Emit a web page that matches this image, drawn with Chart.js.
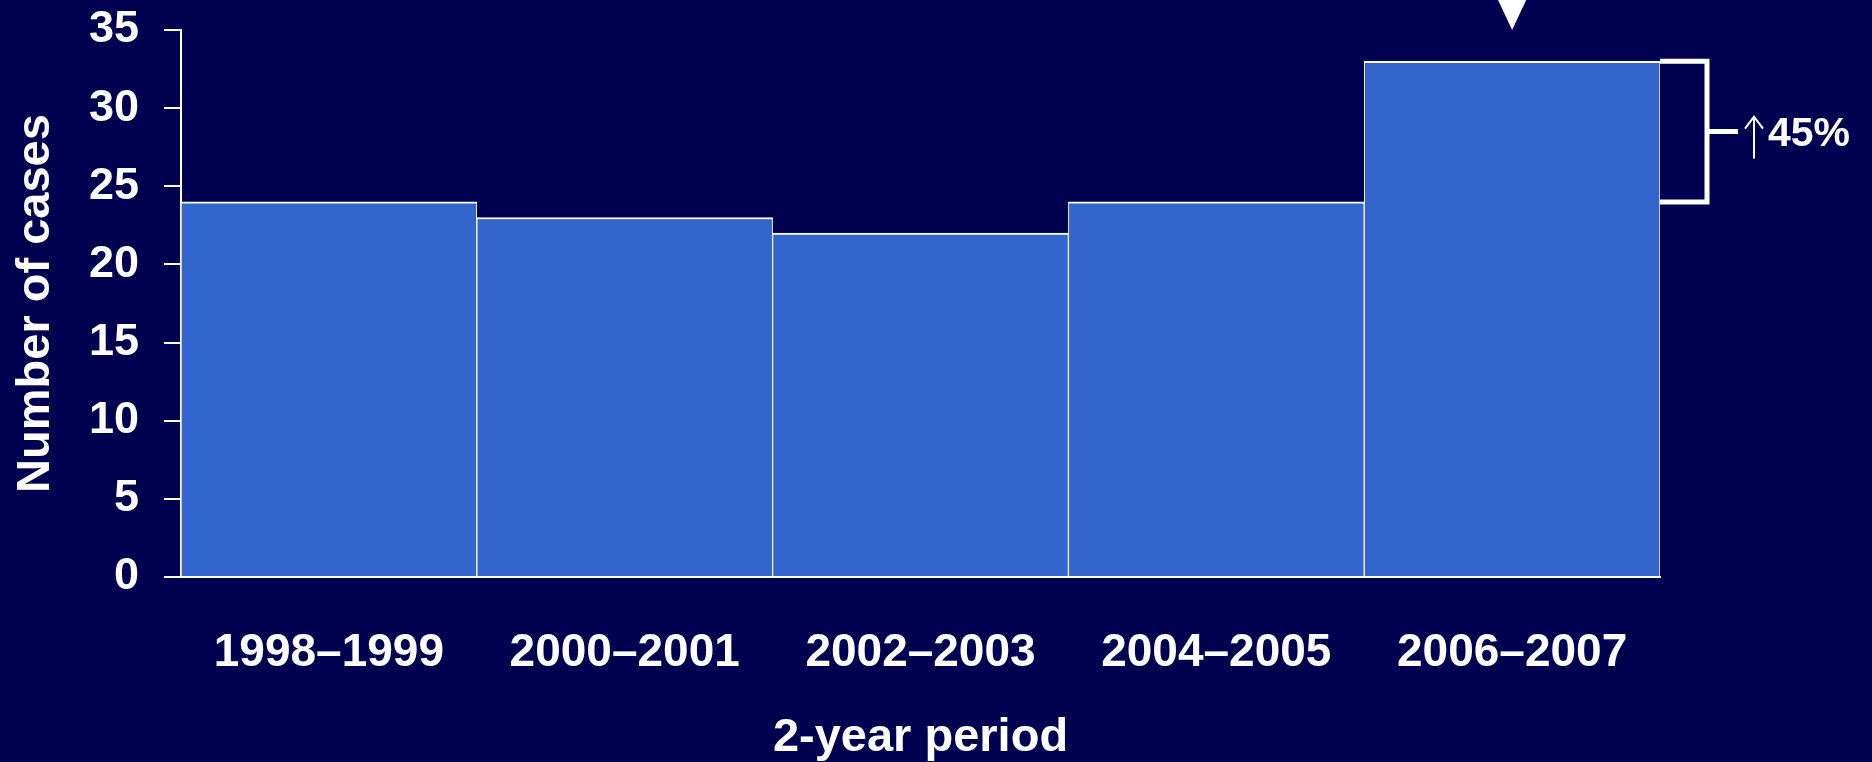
<!doctype html>
<html lang="en">
<head>
<meta charset="utf-8">
<title>Number of cases by 2-year period</title>
<script src="https://cdn.jsdelivr.net/npm/chart.js"></script>
<style>
  html, body { margin: 0; padding: 0; background: #000050; }
  canvas { display: block; }
</style>
</head>
<body>
<canvas id="casesChart" width="1872" height="762"></canvas>
<script>
// data
const periods = ['1998\u20131999', '2000\u20132001', '2002\u20132003', '2004\u20132005', '2006\u20132007'];
const cases = [24, 23, 22, 24, 33];
const yTicks = [0, 5, 10, 15, 20, 25, 30, 35];
const increaseLabel = '45%';

const FONT = '"Liberation Sans", Arial, Helvetica, sans-serif';
const WHITE = '#ffffff';

// triangle above the last bar + bracket showing the increase
const notePlugin = {
  id: 'notes',
  afterDraw(chart) {
    const ctx = chart.ctx;
    const x = chart.scales.x, y = chart.scales.y;
    const last = cases.length - 1;
    const cx = x.getPixelForValue(last);
    const top = chart.chartArea.top;
    ctx.save();
    ctx.fillStyle = WHITE;
    ctx.beginPath();
    ctx.moveTo(cx - 15, top - 32);
    ctx.lineTo(cx + 15, top - 32);
    ctx.lineTo(cx, top);
    ctx.closePath();
    ctx.fill();

    // bracket from previous period to last one
    const yHigh = y.getPixelForValue(cases[last]);
    const yLow = y.getPixelForValue(cases[last - 1]);
    const x0 = chart.chartArea.right;
    const x1 = x0 + 47;
    const yMid = (yHigh + yLow) / 2;
    ctx.strokeStyle = WHITE;
    ctx.lineWidth = 5;
    ctx.beginPath();
    ctx.moveTo(x0, yHigh);
    ctx.lineTo(x1, yHigh);
    ctx.lineTo(x1, yLow);
    ctx.lineTo(x0, yLow);
    ctx.moveTo(x1, yMid);
    ctx.lineTo(x1 + 31, yMid);
    ctx.stroke();

    // thin up arrow
    const ax = x1 + 47;
    ctx.lineWidth = 2;
    ctx.beginPath();
    ctx.moveTo(ax, yMid + 27);
    ctx.lineTo(ax, yMid - 15);
    ctx.moveTo(ax - 9, yMid - 3);
    ctx.lineTo(ax, yMid - 15);
    ctx.lineTo(ax + 9, yMid - 3);
    ctx.stroke();

    ctx.textBaseline = 'middle';
    ctx.textAlign = 'left';
    ctx.font = 'bold 41px ' + FONT;
    ctx.fillText(increaseLabel, ax + 14, yMid + 3);
    ctx.restore();
  }
};

const ctx = document.getElementById('casesChart').getContext('2d');
const casesChart = new Chart(ctx, {
  type: 'bar',
  data: {
    labels: periods,
    datasets: [{
      label: 'Number of cases',
      data: cases,
      backgroundColor: '#3366cc',
      borderColor: WHITE,
      borderWidth: { top: 2, left: 1, right: 1, bottom: 0 },
      borderSkipped: false,
      barPercentage: 1,
      categoryPercentage: 1
    }]
  },
  options: {
    responsive: false,
    animation: false,
    layout: { padding: { top: 30, right: 212, bottom: 0, left: 0 } },
    plugins: {
      legend: { display: false },
      tooltip: { enabled: false }
    },
    scales: {
      x: {
        grid: { display: false, drawTicks: false, tickLength: 0 },
        border: { display: true, color: WHITE, width: 2 },
        ticks: {
          color: WHITE,
          padding: 51,
          font: { family: FONT, size: 46, weight: 'bold', lineHeight: 1.1 }
        },
        title: {
          display: true,
          text: '2-year period',
          color: WHITE,
          padding: { top: 0, bottom: -2 },
          font: { family: FONT, size: 47, weight: 'bold', lineHeight: 1.1 }
        },
        afterFit(scale) { scale.height = 185; }
      },
      y: {
        min: 0,
        max: 35,
        afterBuildTicks(scale) { scale.ticks = yTicks.map(v => ({ value: v })); },
        grid: { display: true, drawOnChartArea: false, drawTicks: true, tickLength: 17, color: WHITE, lineWidth: 2 },
        border: { display: true, color: WHITE, width: 2 },
        ticks: {
          color: WHITE,
          padding: 25,
          font: { family: FONT, size: 45, weight: 'bold', lineHeight: 1.1 }
        },
        title: {
          display: true,
          text: 'Number of cases',
          color: WHITE,
          padding: { top: 10, bottom: 0 },
          font: { family: FONT, size: 47, weight: 'bold', lineHeight: 1.1 }
        },
        afterFit(scale) {
          scale.width = 181;
          scale.paddingTop = 0;
          scale.paddingBottom = 0;
        }
      }
    }
  },
  plugins: [notePlugin]
});
</script>
</body>
</html>
